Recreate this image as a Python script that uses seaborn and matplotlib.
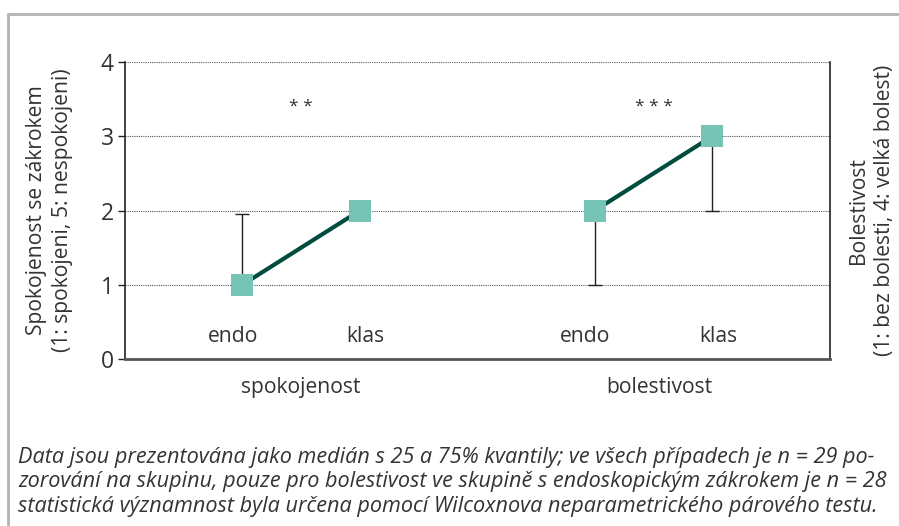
import matplotlib
matplotlib.use("Agg")
import matplotlib.pyplot as plt
import seaborn as sns
import pandas as pd
from matplotlib.lines import Line2D

# data
groups = ["spokojenost", "spokojenost", "bolestivost", "bolestivost"]
methods = ["endo", "klas", "endo", "klas"]
median = [1, 2, 2, 3]
q25 = [1, 2, 1, 2]
q75 = [1.95, 2, 2, 3]
stars = {"spokojenost": "* *", "bolestivost": "* * *"}

group_names = ["spokojenost", "bolestivost"]
method_names = ["endo", "klas"]

df = pd.DataFrame({"group": groups, "method": methods,
                   "median": median, "q25": q25, "q75": q75})
df["x"] = [group_names.index(g) * 3 + method_names.index(m) + 1
           for g, m in zip(df["group"], df["method"])]

sns.set_style("white")
plt.rcParams["font.family"] = ["Open Sans", "DejaVu Sans"]
TXT = "#333333"
FS = 15.2

fig = plt.figure(figsize=(8.99, 5.26), dpi=100)
ax = fig.add_axes([0.139, 0.3175, 0.784, 0.5645])

# frame around figure (top + left edge)
fig.add_artist(Line2D([8 / 899, 1], [1 - 14 / 526, 1 - 14 / 526],
                      transform=fig.transFigure, color="#b3b3b3", lw=2))
fig.add_artist(Line2D([8 / 899, 8 / 899], [0, 1 - 14 / 526],
                      transform=fig.transFigure, color="#b3b3b3", lw=2))

# whiskers (quartiles)
for _, r in df.iterrows():
    if r["q75"] > r["median"]:
        ax.errorbar(r["x"], r["median"], yerr=[[0], [r["q75"] - r["median"]]],
                    fmt="none", ecolor="#222222", elinewidth=1, capsize=5, zorder=2)
    if r["q25"] < r["median"]:
        ax.errorbar(r["x"], r["median"], yerr=[[r["median"] - r["q25"]], [0]],
                    fmt="none", ecolor="#222222", elinewidth=1, capsize=5, zorder=2)

for g in group_names:
    sub = df[df["group"] == g]
    sns.lineplot(data=sub, x="x", y="median", color="#004d40", lw=3,
                 ax=ax, zorder=3, legend=False)
sns.scatterplot(data=df, x="x", y="median", marker="s", s=250,
                color="#76c4b6", edgecolor="none", ax=ax, zorder=4, legend=False)

for _, r in df.iterrows():
    ax.text(r["x"] - 0.08 if r["method"] == "endo" else r["x"] + 0.05, 0.3,
            r["method"], ha="center", va="center", fontsize=FS, color=TXT)

for i, g in enumerate(group_names):
    cx = i * 3 + 1.5
    ax.text(cx, 3.4, stars[g], ha="center", va="center", fontsize=12.5, color=TXT)
    ax.text(cx + 0.05 * i, -0.38, g, ha="center", va="center", fontsize=FS,
            color=TXT)

ax.set_xlim(0, 6)
ax.set_ylim(0, 4)
ax.set_yticks([0, 1, 2, 3, 4])
ax.set_xticks([])
ax.set_xlabel("")
ax.set_ylabel("Spokojenost se zákrokem\n(1: spokojeni, 5: nespokojeni)",
              fontsize=FS, color=TXT, labelpad=20, linespacing=1.3)
ax.tick_params(axis="y", labelsize=16.5, colors=TXT, length=5, width=1,
               direction="out", left=True, color="#222222", pad=3)
for y in [1, 2, 3, 4]:
    ax.axhline(y, color="#555555", lw=0.8, ls=(0, (1, 1)), zorder=1)

ax.spines["top"].set_visible(False)
ax.spines["left"].set_color("#222222")
ax.spines["right"].set_color("#222222")
ax.spines["left"].set_linewidth(1.2)
ax.spines["right"].set_linewidth(1.2)
ax.spines["bottom"].set_color("#555555")
ax.spines["bottom"].set_linewidth(2)

ax2 = ax.twinx()
ax2.set_ylim(0, 4)
ax2.set_yticks([])
ax2.set_ylabel("Bolestivost\n(1: bez bolesti, 4: velká bolest)",
               fontsize=FS, color=TXT, labelpad=13, linespacing=1.3)
for s in ax2.spines.values():
    s.set_visible(False)

caption = ("Data jsou prezentována jako medián s 25 a 75% kvantily; ve všech případech je n = 29 po-\n"
           "zorování na skupinu, pouze pro bolestivost ve skupině s endoskopickým zákrokem je n = 28\n"
           "statistická významnost byla určena pomocí Wilcoxnova neparametrického párového testu.")
fig.text(18 / 899, 1 - 482 / 526, caption, ha="left", va="center", fontsize=15.6,
         style="italic", color=TXT, linespacing=1.2)

fig.savefig("out.png", dpi=100)
